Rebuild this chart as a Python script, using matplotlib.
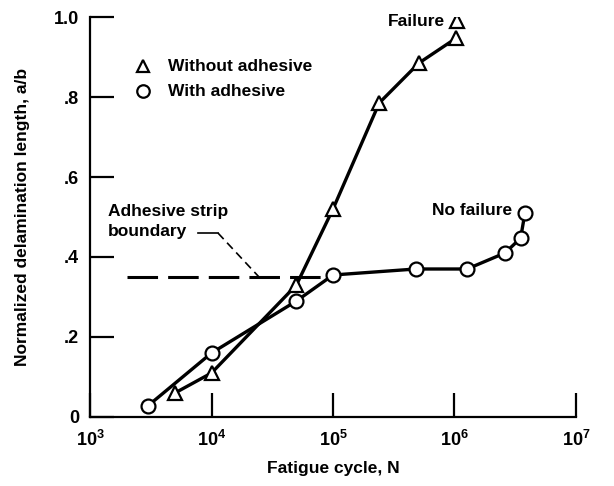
import matplotlib.pyplot as plt
from matplotlib.ticker import FixedLocator, FixedFormatter

plt.rcParams['font.family'] = ['Liberation Sans', 'DejaVu Sans']
plt.rcParams['font.weight'] = 'bold'
plt.rcParams['axes.labelweight'] = 'bold'
plt.rcParams['mathtext.fontset'] = 'custom'
plt.rcParams['mathtext.rm'] = 'Liberation Sans:bold'
plt.rcParams['mathtext.bf'] = 'Liberation Sans:bold'

# sem adesivo (triângulos)
ciclos_sem = [5e3, 1e4, 5e4, 1e5, 2.4e5, 5.1e5, 1.03e6]
a_b_sem = [0.06, 0.11, 0.33, 0.52, 0.785, 0.885, 0.947]
ciclo_falha = [1.05e6]
a_b_falha = [0.99]

# com adesivo (círculos)
ciclos_com = [3e3, 1e4, 5e4, 1e5, 4.8e5, 1.27e6, 2.6e6, 3.5e6, 3.8e6]
a_b_com = [0.028, 0.16, 0.29, 0.355, 0.37, 0.37, 0.41, 0.447, 0.51]

# limite da faixa adesiva
faixa_x = [2e3, 8e4]
faixa_y = [0.35, 0.35]
seta_x = [7.7e3, 1.13e4, 2.46e4]
seta_y = [0.46, 0.46, 0.35]

x_ticks = [1e3, 1e4, 1e5, 1e6, 1e7]
x_labels = ['$10^3$', '$10^4$', '$10^5$', '$10^6$', '$10^7$']
y_ticks = [0, 0.2, 0.4, 0.6, 0.8, 1.0]
y_labels = ['0', '.2', '.4', '.6', '.8', '1.0']

fs = 12.5

fig = plt.figure(figsize=(6.14, 4.86), dpi=100)
ax = fig.add_axes([0.1466, 0.142, 0.7915, 0.823])

ax.plot(ciclos_sem, a_b_sem, color='black', lw=2.4, marker='^', ms=10,
        mfc='white', mec='black', mew=1.6, zorder=3)
ax.plot(ciclo_falha, a_b_falha, ls='none', marker='^', ms=10,
        mfc='white', mec='black', mew=1.6, zorder=3)
ax.plot(ciclos_com, a_b_com, color='black', lw=2.4, marker='o', ms=10,
        mfc='white', mec='black', mew=1.6, zorder=4)

ax.plot(faixa_x, faixa_y, color='black', lw=2.2, dashes=(10, 3.3), zorder=2)
ax.plot(seta_x[:2], seta_y[:2], color='black', lw=1.2)
ax.plot(seta_x[1:], seta_y[1:], color='black', lw=1.2, dashes=(5, 3))

# legenda desenhada à mão
ax.plot([2.73e3], [0.877], ls='none', marker='^', ms=9, mfc='white', mec='black', mew=1.6)
ax.plot([2.73e3], [0.815], ls='none', marker='o', ms=9, mfc='white', mec='black', mew=1.6)
ax.text(4.4e3, 0.877, 'Without adhesive', fontsize=fs, va='center')
ax.text(4.4e3, 0.815, 'With adhesive', fontsize=fs, va='center')

ax.text(1.4e3, 0.488, 'Adhesive strip\nboundary', fontsize=fs, va='center',
        linespacing=1.45)
ax.text(8.4e5, 0.99, 'Failure', fontsize=fs, va='center', ha='right')
ax.text(3.0e6, 0.515, 'No failure', fontsize=fs, va='center', ha='right')

ax.set_xscale('log')
ax.set_xlim(1e3, 1e7)
ax.set_ylim(0, 1.0)
ax.xaxis.set_major_locator(FixedLocator(x_ticks))
ax.xaxis.set_major_formatter(FixedFormatter(x_labels))
ax.xaxis.set_minor_locator(FixedLocator([]))
ax.yaxis.set_major_locator(FixedLocator(y_ticks))
ax.yaxis.set_major_formatter(FixedFormatter(y_labels))

for lado in ['top', 'right']:
    ax.spines[lado].set_visible(False)
for lado in ['left', 'bottom']:
    ax.spines[lado].set_linewidth(1.6)

ax.tick_params(direction='in', length=17, width=1.6, labelsize=13, pad=8)
ax.tick_params(axis='x', pad=9)

ax.set_xlabel('Fatigue cycle, N', fontsize=fs, labelpad=8)
ax.set_ylabel('Normalized delamination length, a/b', fontsize=fs, labelpad=17)

fig.savefig('out.png', dpi=100)
